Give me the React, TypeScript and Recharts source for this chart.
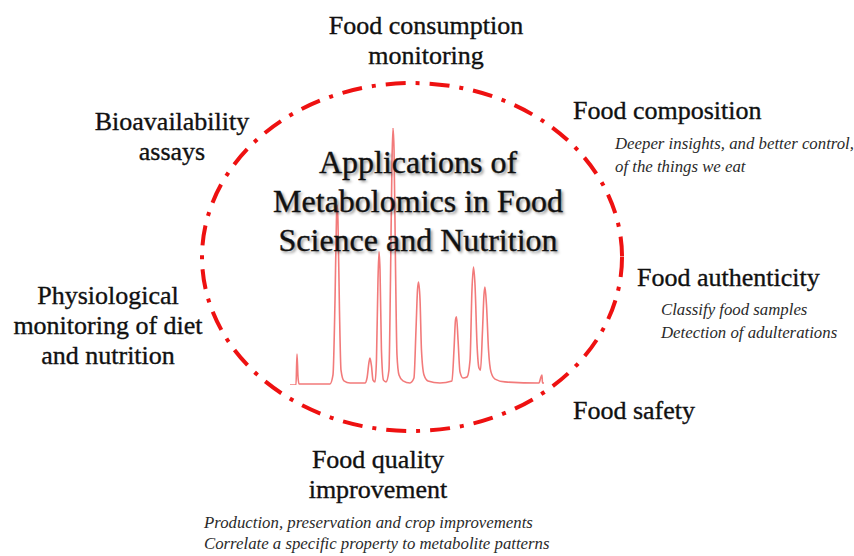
// App.tsx
import React from "react";
import { LineChart, Line, XAxis, YAxis, ReferenceArea } from "recharts";

// chromatogram trace: retention time (min) vs relative intensity (%)
const retention = [
  0, 0.59, 0.69, 0.79, 0.89, 3.94,
  4.23, 4.43, 4.58, 4.63, 4.72, 4.87, 5.02, 5.31, 5.91, 7.38,
  7.58, 7.78, 7.87, 8.02, 8.17, 8.37,
  8.51, 8.66, 8.76, 8.86, 9.0, 9.2, 9.45,
  9.74, 9.89, 10.04, 10.14, 10.24, 10.39, 10.53, 10.73, 11.12, 11.81,
  12.2, 12.4, 12.55, 12.65, 12.8, 12.94, 13.19, 13.58, 14.76,
  15.94, 16.14, 16.29, 16.39, 16.54, 16.73, 17.03, 17.42,
  17.72, 17.91, 18.06, 18.21, 18.41, 18.6, 18.75,
  18.95, 19.09, 19.19, 19.34, 19.54, 19.78, 20.18, 21.16,
  24.5, 24.7, 24.8, 24.85, 25,
];
const intensity = [
  0, 0, 12, 3, 0.4, 0.4,
  3.9, 33, 66, 70, 64, 29, 5.8, 1.6, 0.8, 0.8,
  2.7, 9, 10.5, 7.4, 1.9, 1.2,
  9.7, 40.9, 51.8, 44.7, 13.6, 1.9, 1.2,
  5.8, 40.9, 87.5, 100, 91.4, 44.7, 11.7, 3.9, 1.6, 0.8,
  2.7, 21.4, 37, 40.1, 33, 13.6, 3.9, 1.6, 0.8,
  1.6, 13.6, 25.3, 26.5, 17.5, 5.1, 2.7, 3.1,
  9.7, 37, 45.9, 38.9, 15.6, 6.6, 5.8,
  21.4, 35, 38.1, 31.1, 13.6, 5.1, 2.3, 1.2,
  0.8, 3.1, 3.9, 0.8, 0.8,
];

// dashed ring around the trace, in the same units
const ringTime = [-8.66, 32.68];
const ringLevel = [-17.9, 117.5];

const titleLines = ["Applications of", "Metabolomics in Food", "Science and Nutrition"];
const consumption = ["Food consumption", "monitoring"];
const bioavailability = ["Bioavailability", "assays"];
const physiological = ["Physiological", "monitoring of diet", "and nutrition"];
const quality = ["Food quality", "improvement"];
const composition = ["Food composition"];
const authenticity = ["Food authenticity"];
const safety = ["Food safety"];
const compositionNotes = ["Deeper insights, and better control,", "of the things we eat"];
const authenticityNotes = ["Classify food samples", "Detection of adulterations"];
const qualityNotes = [
  "Production, preservation and crop improvements",
  "Correlate a specific property to metabolite patterns",
];

const data = retention.map((t, i) => ({ t, v: intensity[i] }));

const Ring = (props: any) => {
  const { x, y, width, height } = props;
  return (
    <ellipse
      cx={x + width / 2}
      cy={y + height / 2}
      rx={width / 2}
      ry={height / 2}
      fill="none"
      stroke="#ee1111"
      strokeWidth={4}
      strokeDasharray="20 10 4 10"
    />
  );
};

// text block; y is the first baseline, x is left edge or centre
const Lines = ({ lines, x, y, size, step, center, italic, shadow }: any) => (
  <>
    {lines.map((s: string, i: number) => (
      <div
        key={s}
        style={{
          position: "absolute",
          left: center ? x - 250 : x,
          width: center ? 500 : undefined,
          top: y + i * step - 0.8375 * size,
          fontFamily: "Liberation Serif",
          fontSize: size,
          lineHeight: `${size}px`,
          fontStyle: italic ? "italic" : "normal",
          textAlign: center ? "center" : "left",
          whiteSpace: "nowrap",
          color: italic ? "#2a2a2a" : "#111",
          WebkitTextStroke: italic ? undefined : "0.35px #111",
          textShadow: shadow ? "2px 2px 3px rgba(0,0,0,0.45)" : undefined,
        }}
      >
        {s}
      </div>
    ))}
  </>
);

export default function App() {
  return (
    <div style={{ position: "absolute", left: 0, top: 0, width: 854, height: 556, background: "#fff" }}>
      <LineChart
        width={854}
        height={556}
        data={data}
        margin={{ top: 128, right: 310, bottom: 171, left: 290 }}
      >
        <XAxis type="number" dataKey="t" domain={[0, 25]} allowDataOverflow hide />
        <YAxis type="number" domain={[0, 100]} allowDataOverflow hide />
        <ReferenceArea
          x1={ringTime[0]}
          x2={ringTime[1]}
          y1={ringLevel[0]}
          y2={ringLevel[1]}
          ifOverflow="visible"
          shape={Ring}
        />
        <Line
          type="monotone"
          dataKey="v"
          stroke="#f27a7a"
          strokeWidth={1.6}
          dot={false}
          activeDot={false}
          isAnimationActive={false}
        />
      </LineChart>

      <Lines lines={titleLines} x={418} y={173} size={32} step={39} center shadow />
      <Lines lines={consumption} x={426} y={35} size={26} step={30} center />
      <Lines lines={bioavailability} x={172} y={131} size={26} step={30} center />
      <Lines lines={physiological} x={108} y={305} size={26} step={30} center />
      <Lines lines={quality} x={378} y={469} size={26} step={30} center />
      <Lines lines={composition} x={573} y={120} size={26} step={30} />
      <Lines lines={compositionNotes} x={615} y={150} size={16.8} step={23} italic />
      <Lines lines={authenticity} x={637} y={287} size={26} step={30} />
      <Lines lines={authenticityNotes} x={661} y={316} size={16.8} step={23} italic />
      <Lines lines={safety} x={573} y={420} size={26} step={30} />
      <Lines lines={qualityNotes} x={204} y={529} size={16.8} step={21} italic />
    </div>
  );
}
